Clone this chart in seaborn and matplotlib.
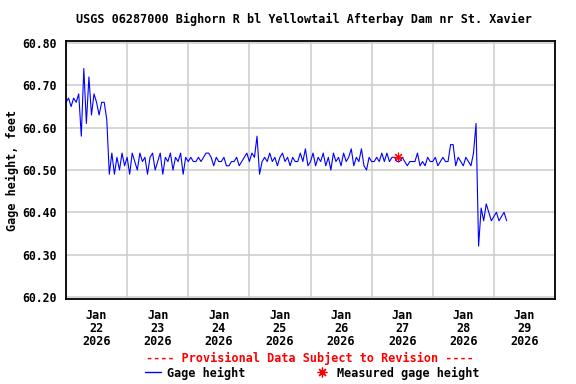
import pandas as pd
import matplotlib
matplotlib.use("Agg")
import matplotlib.pyplot as plt
from matplotlib.lines import Line2D
import seaborn as sns

title = "USGS 06287000 Bighorn R bl Yellowtail Afterbay Dam nr St. Xavier"
ylabel = "Gage height, feet"
provisional = "---- Provisional Data Subject to Revision ----"

# hourly gage height, Jan 22 00:00 .. Jan 29 05:00
gage_ft = [
    # Jan 22
    60.66, 60.67, 60.65, 60.67, 60.66, 60.68, 60.58, 60.74, 60.61, 60.72, 60.63, 60.68,
    60.66, 60.63, 60.66, 60.66, 60.62, 60.49, 60.54, 60.49, 60.53, 60.50, 60.54, 60.51,
    # Jan 23
    60.53, 60.49, 60.54, 60.52, 60.50, 60.54, 60.52, 60.53, 60.49, 60.53, 60.54, 60.50,
    60.52, 60.54, 60.49, 60.53, 60.52, 60.54, 60.50, 60.53, 60.52, 60.54, 60.49, 60.53,
    # Jan 24
    60.52, 60.53, 60.52, 60.52, 60.53, 60.52, 60.53, 60.54, 60.54, 60.53, 60.51, 60.53,
    60.52, 60.52, 60.53, 60.51, 60.51, 60.52, 60.52, 60.53, 60.51, 60.52, 60.53, 60.54,
    # Jan 25
    60.52, 60.54, 60.53, 60.58, 60.49, 60.52, 60.53, 60.52, 60.54, 60.52, 60.53, 60.51,
    60.53, 60.54, 60.52, 60.53, 60.51, 60.53, 60.52, 60.52, 60.54, 60.52, 60.55, 60.51,
    # Jan 26
    60.52, 60.54, 60.51, 60.53, 60.52, 60.54, 60.51, 60.53, 60.50, 60.54, 60.52, 60.53,
    60.51, 60.54, 60.52, 60.53, 60.55, 60.51, 60.53, 60.52, 60.55, 60.51, 60.50, 60.53,
    # Jan 27
    60.52, 60.52, 60.53, 60.52, 60.54, 60.52, 60.54, 60.52, 60.53, 60.53, 60.52, 60.52,
    60.53, 60.52, 60.51, 60.52, 60.52, 60.52, 60.54, 60.51, 60.52, 60.51, 60.53, 60.52,
    # Jan 28
    60.52, 60.53, 60.51, 60.52, 60.53, 60.52, 60.52, 60.56, 60.56, 60.51, 60.53, 60.52,
    60.51, 60.53, 60.52, 60.51, 60.54, 60.61, 60.32, 60.41, 60.38, 60.42, 60.40, 60.38,
    # Jan 29
    60.39, 60.40, 60.38, 60.39, 60.40, 60.38,
]
start_time = "2026-01-22 00:00"

measured_time = ["2026-01-27 10:30"]
measured_ft = [60.53]

y_ticks = [60.20, 60.30, 60.40, 60.50, 60.60, 60.70, 60.80]
day_starts = pd.date_range("2026-01-22", "2026-01-30", freq="D")
day_labels = ["Jan\n22\n2026", "Jan\n23\n2026", "Jan\n24\n2026", "Jan\n25\n2026",
              "Jan\n26\n2026", "Jan\n27\n2026", "Jan\n28\n2026", "Jan\n29\n2026"]

df = pd.DataFrame({
    "time": pd.date_range(start_time, periods=len(gage_ft), freq="h"),
    "height": gage_ft,
})
meas = pd.DataFrame({"time": pd.to_datetime(measured_time), "height": measured_ft})

sns.set_style("white")
plt.rcParams["font.family"] = ["DejaVu Sans Mono"]
plt.rcParams["font.weight"] = "bold"
plt.rcParams["text.color"] = "black"
plt.rcParams["xtick.color"] = "black"
plt.rcParams["ytick.color"] = "black"

fig = plt.figure(figsize=(5.76, 3.84), dpi=100)
ax = fig.add_axes([66 / 576, 1 - 299 / 384, 489 / 576, 258 / 384])

sns.lineplot(data=df, x="time", y="height", color="#0000ff", linewidth=0.8, ax=ax)
sns.scatterplot(data=meas, x="time", y="height", color="red", marker=(8, 2, 0),
                s=40, linewidth=0.8, ax=ax, zorder=5)

ax.set_xlim(day_starts[0], day_starts[-1])
ax.set_ylim(60.195, 60.805)
ax.set_yticks(y_ticks)
ax.set_yticklabels([f"{v:.2f}" for v in y_ticks], fontsize=8.3, fontweight="bold")
ax.set_xticks(day_starts)
ax.set_xticklabels([""] * len(day_starts))
ax.set_xticks(day_starts[:-1] + pd.Timedelta(hours=12), minor=True)
ax.set_xticklabels(day_labels, minor=True, fontsize=8.5, fontweight="bold", linespacing=1.03)
ax.tick_params(axis="both", which="both", length=0, pad=7, labelcolor="black")

ax.grid(True, which="major", color="#cccccc", linewidth=1.1)
ax.set_axisbelow(True)
for sp in ax.spines.values():
    sp.set_color("black")
    sp.set_linewidth(1.3)

ax.set_xlabel("")
ax.set_ylabel("")
fig.text(12 / 576, 1 - 170 / 384, ylabel, ha="center", va="center", rotation=90,
         fontsize=8.5, fontweight="bold", color="black")

fig.text(304 / 576, 1 - 19 / 384, title, ha="center", va="center",
         fontsize=8.5, fontweight="bold", color="black")
fig.text(310 / 576, 1 - 358 / 384, provisional, ha="center", va="center",
         fontsize=8.5, fontweight="bold", color="red")

handles = [
    Line2D([], [], color="#0000ff", linewidth=1.0),
    Line2D([], [], color="red", marker=(8, 2, 0), linestyle="none",
           markersize=7, markeredgewidth=0.9),
]
fig.legend(handles, ["Gage height", "Measured gage height"], loc="center",
           bbox_to_anchor=(312 / 576, 1 - 373 / 384), ncol=2, frameon=False,
           handlelength=1.4, handletextpad=0.5, columnspacing=5.8,
           borderpad=0, labelcolor="black", prop={"weight": "bold", "size": 8.5})

fig.savefig("out.png", dpi=100)
